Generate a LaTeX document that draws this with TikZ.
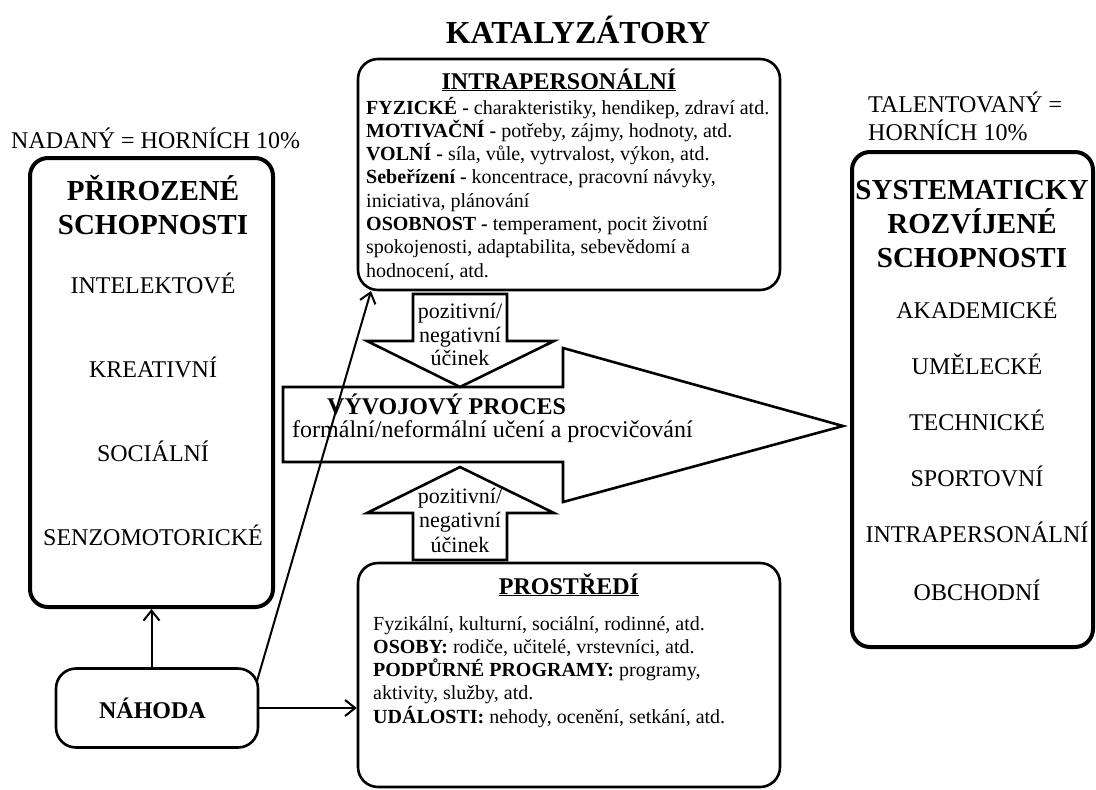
\documentclass[tikz,border=0pt]{standalone}
\usepackage{fontspec}
\setmainfont{Liberation Serif}
\usetikzlibrary{arrows.meta}
\newcommand{\setfs}[2]{\fontsize{#1}{#2}\selectfont}

\begin{document}
\begin{tikzpicture}[x=1pt,y=-1pt,
    thickbox/.style={draw, line width=4pt, rounded corners=18pt, inner sep=0pt},
    thinbox/.style={draw, line width=2.6pt, rounded corners=20pt, inner sep=0pt},
    blockarrow/.style={draw, line width=2.6pt, fill=white, line join=miter},
    conn/.style={line width=2pt, -{Straight Barb[length=10pt,width=16pt]}},
    body/.style={font=\setfs{20}{23}, anchor=base west, inner sep=0pt},
    caps/.style={font=\setfs{24}{28}, anchor=base, inner sep=0pt},
    head/.style={font=\bfseries\setfs{29}{34}, anchor=base, inner sep=0pt},
    effect/.style={font=\setfs{22}{24}, anchor=base, inner sep=0pt}]
\useasboundingbox (0,0) rectangle (1096,790);

\node[font=\bfseries\setfs{32}{38}, anchor=base, inner sep=0pt] (kat) at (578,43) {KATALYZÁTORY};

% boxes
\node[thickbox, minimum width=243pt, minimum height=449pt] (prirozene) at (151.5,382.5) {};
\node[thickbox, minimum width=241pt, minimum height=495pt] (rozvijene) at (972.5,399.5) {};
\node[thinbox, minimum width=422pt, minimum height=231pt] (intra) at (569,174.5) {};
\node[thinbox, minimum width=422pt, minimum height=224pt] (prostredi) at (569,675) {};
\node[thinbox, minimum width=202pt, minimum height=79pt] (nahoda) at (157,708) {};
\node[font=\bfseries\setfs{24}{28}, anchor=base, inner sep=0pt] (nahodatext) at (152.5,718) {NÁHODA};

% big arrow + small arrows
\draw[blockarrow] (283,387) -- (563,387) -- (563,348) -- (843,426) -- (563,502) -- (563,462) -- (283,462) -- cycle;
\draw[blockarrow] (413,294) -- (507,294) -- (507,341) -- (554,341) -- (460,387) -- (367,341) -- (413,341) -- cycle;
\draw[blockarrow] (413,560) -- (507,560) -- (507,513) -- (554,513) -- (460,467) -- (367,513) -- (413,513) -- cycle;

\node[font=\bfseries\setfs{24}{28}, anchor=base west, inner sep=0pt] (proces) at (327,414) {VÝVOJOVÝ PROCES};
\node[font=\setfs{24}{28}, anchor=base west, inner sep=0pt] (uceni) at (292,437) {formální/neformální učení a procvičování};

\node[effect] (poz1) at (460,318) {pozitivní/};
\node[effect] (neg1) at (460,342) {negativní};
\node[effect] (uci1) at (460,365) {účinek};
\node[effect] (poz2) at (460,503) {pozitivní/};
\node[effect] (neg2) at (460,527) {negativní};
\node[effect] (uci2) at (460,552) {účinek};

% left
\node[font=\setfs{24}{28}, anchor=base west, inner sep=0pt] (nadany) at (11,148) {NADANÝ = HORNÍCH 10\%};
\node[head] (pr1) at (153,200) {PŘIROZENÉ};
\node[head] (pr2) at (153,234) {SCHOPNOSTI};
\node[caps] (intel) at (153,293) {INTELEKTOVÉ};
\node[caps] (kreat) at (153,377) {KREATIVNÍ};
\node[caps] (soc) at (153,461) {SOCIÁLNÍ};
\node[caps] (senz) at (153,545) {SENZOMOTORICKÉ};

% right
\node[font=\setfs{24}{28}, anchor=base west, inner sep=0pt] (tal1) at (868,112) {TALENTOVANÝ =};
\node[font=\setfs{24}{28}, anchor=base west, inner sep=0pt] (tal2) at (868,140) {HORNÍCH 10\%};
\node[head] (sr1) at (972,199) {SYSTEMATICKY};
\node[head] (sr2) at (972,233) {ROZVÍJENÉ};
\node[head] (sr3) at (972,267) {SCHOPNOSTI};
\node[caps] (akad) at (977,318) {AKADEMICKÉ};
\node[caps] (umel) at (977,374) {UMĚLECKÉ};
\node[caps] (tech) at (977,430) {TECHNICKÉ};
\node[caps] (sport) at (977,486) {SPORTOVNÍ};
\node[caps] (intrap) at (977,542) {INTRAPERSONÁLNÍ};
\node[caps] (obch) at (977,600) {OBCHODNÍ};

% intrapersonalni
\node[font=\bfseries\setfs{24}{28}, anchor=base, inner sep=0pt] (intratitle) at (559,89) {\underline{INTRAPERSONÁLNÍ}};
\node[body] (fyz) at (366,114) {\textbf{FYZICKÉ -} charakteristiky, hendikep, zdraví atd.};
\node[body] (mot) at (366,137.3) {\textbf{MOTIVAČNÍ -} potřeby, zájmy, hodnoty, atd.};
\node[body] (vol) at (366,160.6) {\textbf{VOLNÍ -} síla, vůle, vytrvalost, výkon, atd.};
\node[body] (seb) at (366,183.9) {\textbf{Sebeřízení -} koncentrace, pracovní návyky,};
\node[body] (ini) at (366,207.2) {iniciativa, plánování};
\node[body] (oso) at (366,230.5) {\textbf{OSOBNOST -} temperament, pocit životní};
\node[body] (spo) at (366,253.8) {spokojenosti, adaptabilita, sebevědomí a};
\node[body] (hod) at (366,277.1) {hodnocení, atd.};

% prostredi
\node[font=\bfseries\setfs{24}{28}, anchor=base, inner sep=0pt] (prostitle) at (569,594) {\underline{PROSTŘEDÍ}};
\node[body] (fyzk) at (373,630) {Fyzikální, kulturní, sociální, rodinné, atd.};
\node[body] (osob) at (373,653.3) {\textbf{OSOBY:} rodiče, učitelé, vrstevníci, atd.};
\node[body] (podp) at (373,676.6) {\textbf{PODPŮRNÉ PROGRAMY:} programy,};
\node[body] (akt) at (373,699.9) {aktivity, služby, atd.};
\node[body] (udal) at (373,723.2) {\textbf{UDÁLOSTI:} nehody, ocenění, setkání, atd.};

% connectors
\coordinate (nroh) at (257,681);
\coordinate (intraroh) at (371,291);
\draw[conn] (nahoda.north -| prirozene.south) -- (prirozene.south);
\draw[conn] (nahoda.east) -- (nahoda.east -| prostredi.west);
\draw[conn] (nroh) -- (intraroh);

\end{tikzpicture}
\end{document}
